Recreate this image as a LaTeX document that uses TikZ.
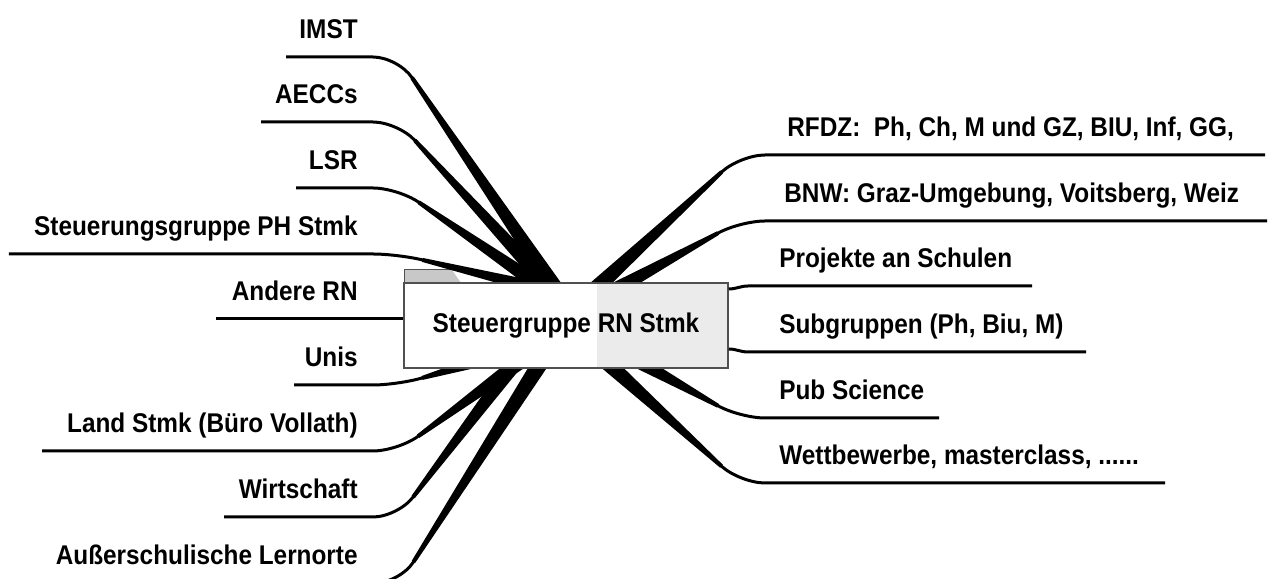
\documentclass[tikz,border=0pt]{standalone}
\usepackage{fontspec}
\setmainfont{Liberation Sans}[FakeStretch=0.9]
\usetikzlibrary{calc}
\definecolor{RNFrame}{HTML}{505050}
\definecolor{RNTab}{HTML}{C8C8C8}
\definecolor{RNShade}{HTML}{EBEBEB}
% widening part of a branch, from its bend #1 to the hub point #2
\newcommand{\taper}[2]{%
  \coordinate (tp) at ($(#1)!0.5cm!(#2)$);
  \fill ($(tp)!0.04cm!90:(#2)$) -- ($(#2)!0.17cm!-90:(tp)$)
    -- ($(#2)!0.17cm!90:(tp)$) -- ($(tp)!0.04cm!-90:(#2)$) -- cycle;}

\begin{document}
\begin{tikzpicture}[x=1cm,y=1cm,
  lbl/.style={font=\fontsize{15.4}{18}\selectfont\bfseries,inner sep=0pt},
  stem/.style={line width=0.06cm,rounded corners=0.5cm},
  hubbox/.style={draw=RNFrame,line width=0.03cm,fill=white,inner sep=0pt,
    minimum width=6.48cm,minimum height=1.70cm,
    path picture={\fill[RNShade] ([xshift=-2.62cm]path picture bounding box.north east)
      rectangle (path picture bounding box.south east);}}]
\path[use as bounding box] (0,0) rectangle (25.40,11.58);
\fill[white] (0,0) rectangle (25.40,11.58);
\clip (0,0) rectangle (25.40,11.58);

% tab on the central box
\fill[RNTab] (8.08,5.92) -- (8.08,6.18) -- (9.04,6.18) -- (9.22,5.92) -- cycle;
\draw[RNFrame,line width=0.02cm] (8.08,5.92) -- (8.08,6.18) -- (9.04,6.18);

% left side
\coordinate (imst-l) at (5.72,10.44);  \coordinate (imst-c) at (7.96,10.44);  \coordinate (imst-t) at (11.30,5.52);
\coordinate (aeccs-l) at (5.22,9.14);  \coordinate (aeccs-c) at (7.96,9.14);  \coordinate (aeccs-t) at (11.28,5.52);
\coordinate (lsr-l) at (5.92,7.82);    \coordinate (lsr-c) at (7.96,7.82);    \coordinate (lsr-t) at (11.30,5.52);
\coordinate (phst-l) at (0.18,6.50);   \coordinate (phst-c) at (7.96,6.50);   \coordinate (phst-t) at (12.00,5.52);
\coordinate (andere-l) at (4.32,5.20);
\coordinate (unis-l) at (5.88,3.88);   \coordinate (unis-c) at (7.96,3.88);   \coordinate (unis-t) at (10.50,4.62);
\coordinate (land-l) at (0.84,2.56);   \coordinate (land-c) at (7.96,2.56);   \coordinate (land-t) at (10.78,4.62);
\coordinate (wirt-l) at (4.48,1.24);   \coordinate (wirt-c) at (7.96,1.24);   \coordinate (wirt-t) at (10.52,4.62);
\coordinate (lern-l) at (0.68,-0.08);  \coordinate (lern-c) at (8.00,-0.08);  \coordinate (lern-t) at (11.00,4.62);

% right side
\coordinate (rfdz-r) at (25.30,8.48);  \coordinate (rfdz-c) at (14.80,8.48);  \coordinate (rfdz-t) at (11.60,5.52);
\coordinate (bnw-r) at (25.34,7.16);   \coordinate (bnw-c) at (14.80,7.16);   \coordinate (bnw-t) at (11.82,5.52);
\coordinate (proj-r) at (20.64,5.86);  \coordinate (proj-c) at (14.96,5.86);
\coordinate (subgr-r) at (21.72,4.54); \coordinate (subgr-c) at (14.96,4.54);
\coordinate (pub-r) at (18.78,3.22);   \coordinate (pub-c) at (14.80,3.22);   \coordinate (pub-t) at (12.28,4.62);
\coordinate (wett-r) at (23.30,1.92);  \coordinate (wett-c) at (14.80,1.92);  \coordinate (wett-t) at (11.82,4.62);

% branches
\draw[stem] (imst-l) -- (imst-c) -- (imst-t);     \taper{imst-c}{imst-t}
\draw[stem] (aeccs-l) -- (aeccs-c) -- (aeccs-t);  \taper{aeccs-c}{aeccs-t}
\draw[stem] (lsr-l) -- (lsr-c) -- (lsr-t);        \taper{lsr-c}{lsr-t}
\draw[stem] (phst-l) -- (phst-c) -- (phst-t);     \taper{phst-c}{phst-t}
\draw[stem] (unis-l) -- (unis-c) -- (unis-t);     \taper{unis-c}{unis-t}
\draw[stem] (land-l) -- (land-c) -- (land-t);     \taper{land-c}{land-t}
\draw[stem] (wirt-l) -- (wirt-c) -- (wirt-t);     \taper{wirt-c}{wirt-t}
\draw[stem] (lern-l) -- (lern-c) -- (lern-t);     \taper{lern-c}{lern-t}
\draw[stem] (rfdz-r) -- (rfdz-c) -- (rfdz-t);     \taper{rfdz-c}{rfdz-t}
\draw[stem] (bnw-r) -- (bnw-c) -- (bnw-t);        \taper{bnw-c}{bnw-t}
\draw[stem] (pub-r) -- (pub-c) -- (pub-t);        \taper{pub-c}{pub-t}
\draw[stem] (wett-r) -- (wett-c) -- (wett-t);     \taper{wett-c}{wett-t}

% central box
\node[hubbox] (hub) at (11.32,5.07) {};
\node[lbl] (hubtext) at (11.32,5.07) {Steuergruppe RN Stmk};

\draw[stem] (andere-l) -- (andere-l -| hub.west);
\draw[line width=0.06cm] ([yshift=-0.06cm]proj-c -| hub.east) to[out=0,in=180] (proj-c) -- (proj-r);
\draw[line width=0.06cm] ([yshift=0.06cm]subgr-c -| hub.east) to[out=0,in=180] (subgr-c) -- (subgr-r);

% labels
\node[lbl,anchor=base east] (imst) at (7.16,10.80) {IMST};
\node[lbl,anchor=base east] (aeccs) at (7.16,9.50) {AECCs};
\node[lbl,anchor=base east] (lsr) at (7.16,8.18) {LSR};
\node[lbl,anchor=base east] (phst) at (7.16,6.86) {Steuerungsgruppe PH Stmk};
\node[lbl,anchor=base east] (andere) at (7.16,5.56) {Andere RN};
\node[lbl,anchor=base east] (unis) at (7.16,4.24) {Unis};
\node[lbl,anchor=base east] (land) at (7.16,2.92) {Land Stmk (Büro Vollath)};
\node[lbl,anchor=base east] (wirt) at (7.16,1.60) {Wirtschaft};
\node[lbl,anchor=base east] (lern) at (7.16,0.28) {Außerschulische Lernorte};
\node[lbl,anchor=base west] (rfdz) at (15.74,8.84) {RFDZ:\ \ Ph, Ch, M und GZ, BIU, Inf, GG,};
\node[lbl,anchor=base west] (bnw) at (15.68,7.52) {BNW: Graz-Umgebung, Voitsberg, Weiz};
\node[lbl,anchor=base west] (proj) at (15.58,6.22) {Projekte an Schulen};
\node[lbl,anchor=base west] (subgr) at (15.58,4.90) {Subgruppen (Ph, Biu, M)};
\node[lbl,anchor=base west] (pub) at (15.58,3.58) {Pub Science};
\node[lbl,anchor=base west] (wett) at (15.58,2.28) {Wettbewerbe, masterclass, ......};
\end{tikzpicture}
\end{document}
